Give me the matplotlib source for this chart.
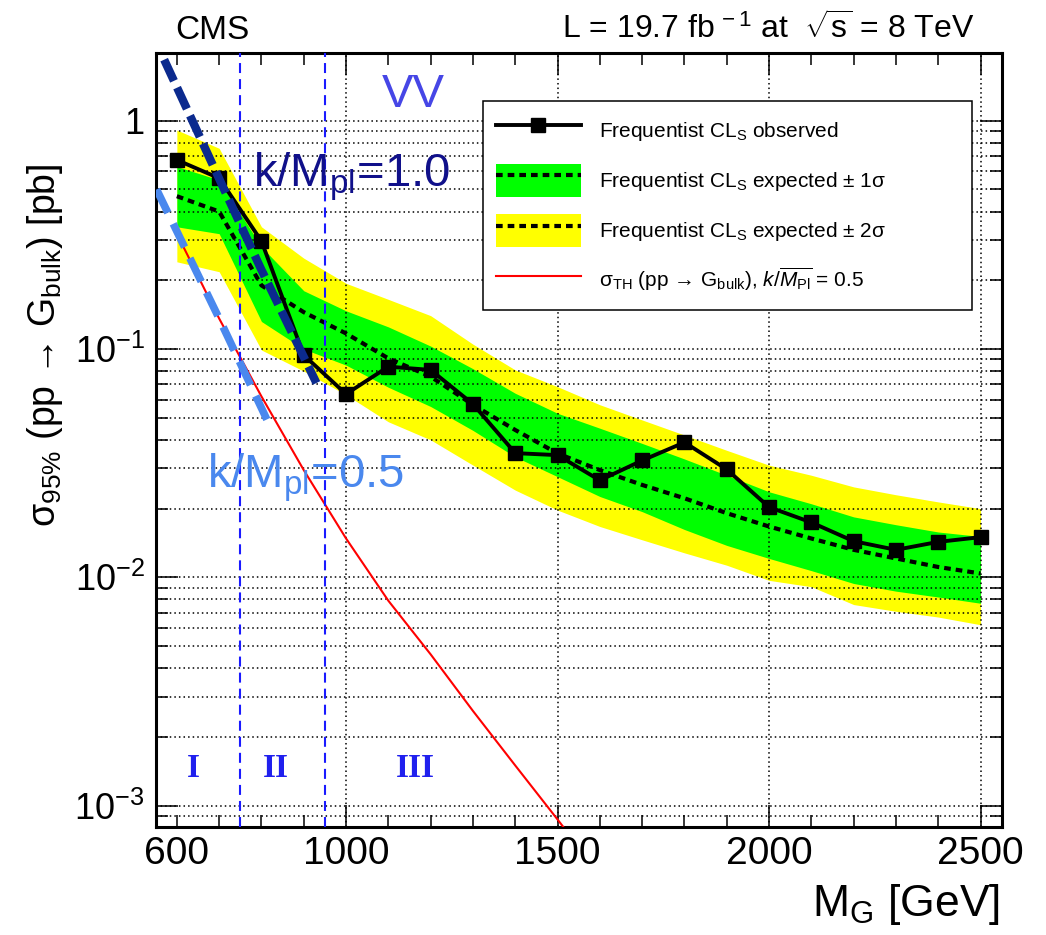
import math

import matplotlib
matplotlib.use('Agg')
import matplotlib.pyplot as plt
from matplotlib.lines import Line2D
from matplotlib.patches import Patch
from matplotlib.legend_handler import HandlerTuple
from matplotlib.ticker import FixedLocator, LogLocator, FuncFormatter, NullFormatter

plt.rcParams['font.family'] = 'Liberation Sans'
plt.rcParams['mathtext.fontset'] = 'custom'
plt.rcParams['mathtext.rm'] = 'Liberation Sans'
plt.rcParams['mathtext.it'] = 'Liberation Sans:italic'
plt.rcParams['mathtext.bf'] = 'Liberation Sans:bold'

# limits (pb)
mass = [600, 700, 800, 900, 1000, 1100, 1200, 1300, 1400, 1500,
        1600, 1700, 1800, 1900, 2000, 2100, 2200, 2300, 2400, 2500]
obs = [0.673, 0.56, 0.297, 0.094, 0.0635, 0.0837, 0.081, 0.0574, 0.035, 0.0343,
       0.0266, 0.0325, 0.039, 0.0297, 0.0203, 0.0174, 0.0144, 0.0132, 0.0143, 0.0150]
exp = [0.467, 0.40, 0.19, 0.145, 0.117, 0.091, 0.0757, 0.057, 0.0442, 0.0349,
       0.0295, 0.0254, 0.0222, 0.0191, 0.0167, 0.0148, 0.0132, 0.0121, 0.0111, 0.0104]
exp_1s_hi = [0.63, 0.55, 0.28, 0.18, 0.147, 0.125, 0.103, 0.082, 0.064, 0.0523,
             0.045, 0.0386, 0.033, 0.028, 0.0237, 0.021, 0.0184, 0.017, 0.0158, 0.0151]
exp_1s_lo = [0.343, 0.32, 0.132, 0.10, 0.085, 0.068, 0.056, 0.044, 0.0337, 0.0276,
             0.0226, 0.0194, 0.0162, 0.0138, 0.0121, 0.0107, 0.0094, 0.0087, 0.0082, 0.0077]
exp_2s_hi = [0.91, 0.757, 0.343, 0.25, 0.194, 0.165, 0.14, 0.105, 0.081, 0.0684,
             0.057, 0.0489, 0.042, 0.036, 0.031, 0.028, 0.0249, 0.023, 0.0214, 0.020]
exp_2s_lo = [0.241, 0.218, 0.099, 0.08, 0.063, 0.048, 0.040, 0.031, 0.0241, 0.0197,
             0.0167, 0.0146, 0.0128, 0.0113, 0.0097, 0.0091, 0.0076, 0.0071, 0.0067, 0.0062]

# theory k/Mpl = 0.5
th_mass = [600, 700, 800, 900, 1000, 1100, 1200, 1300, 1400, 1500, 1600]
th_xsec = [0.32, 0.136, 0.062, 0.0295, 0.0148, 0.0079, 0.0046, 0.0026, 0.0015, 0.00087, 0.0005]

# the two thick dashed guide lines
k10_mass = [570, 700, 800, 930]
k10_xsec = [1.85, 0.557, 0.222, 0.071]
k05_mass = [552, 700, 825]
k05_xsec = [0.50, 0.136, 0.044]

region_edges = [750, 950]
region_names = ['I', 'II', 'III']
region_pos = [638, 834, 1165]

fig = plt.figure(figsize=(10.46, 9.35), dpi=100)
ax = fig.add_axes([155.7 / 1046, 1 - 826.7 / 935, 846 / 1046, 774 / 935])

ax.fill_between(mass, exp_2s_lo, exp_2s_hi, color='#ffff00', lw=0, zorder=1)
ax.fill_between(mass, exp_1s_lo, exp_1s_hi, color='#00ff00', lw=0, zorder=1.1)

dot = (0, (1.6, 1.2))
ax.plot(mass, exp, color='k', lw=3, ls=dot, zorder=3)
ax.plot(th_mass, th_xsec, color='#ff0000', lw=1.5, zorder=3)
ax.plot(k05_mass, k05_xsec, color='#4a88ee', lw=5.5, ls=(0, (3.4, 1.6)), zorder=3.5)
ax.plot(mass, obs, color='k', lw=2.8, marker='s', ms=9.5, zorder=4)
ax.plot(k10_mass, k10_xsec, color='#0b2a8e', lw=6, ls=(0, (2.8, 0.9)), zorder=4.5)

for xe in region_edges:
    ax.axvline(xe, color='#1a1aff', lw=1.5, ls=(0, (4.8, 2.9)), zorder=3)
for name, xp in zip(region_names, region_pos):
    ax.text(xp, 0.00133, name, color='#2020ee', fontsize=24, fontweight='bold',
            family='Liberation Serif', ha='center', va='baseline')

ax.text(1158, 1.15, 'VV', color='#4646e6', fontsize=34, ha='center', va='baseline')
ax.text(780, 0.513, 'k/M$_\\mathrm{pl}$=1.0', color='#10108a', fontsize=34, ha='left', va='baseline')
ax.text(671, 0.0248, 'k/M$_\\mathrm{pl}$=0.5', color='#4a88ee', fontsize=34, ha='left', va='baseline')

ax.set_xlim(550, 2550)
ax.set_yscale('log')
ax.set_ylim(8.09e-4, 1.985)

ax.xaxis.set_major_locator(FixedLocator([600, 1000, 1500, 2000, 2500]))
ax.xaxis.set_minor_locator(FixedLocator(list(range(600, 2501, 100))))
ax.yaxis.set_major_locator(LogLocator(base=10))
ax.yaxis.set_minor_locator(LogLocator(base=10, subs=range(2, 10)))
ax.yaxis.set_minor_formatter(NullFormatter())


def ylab(v, pos):
    e = int(round(math.log10(v)))
    return '1' if e == 0 else '10$^{\\mathrm{%d}}$' % e


ax.yaxis.set_major_formatter(FuncFormatter(ylab))
ax.tick_params(which='both', direction='in', top=True, right=True, width=1.1)
ax.tick_params(which='major', length=16)
ax.tick_params(which='minor', length=8.5)
ax.tick_params(axis='x', labelsize=28, pad=7)
ax.tick_params(axis='y', labelsize=26, pad=8)
for s in ax.spines.values():
    s.set_linewidth(2.2)

ax.set_axisbelow(False)
ax.grid(True, which='major', axis='x', color='k', lw=1.1, ls=(0, (1, 2)))
ax.grid(True, which='both', axis='y', color='k', lw=1.1, ls=(0, (1, 2)))
t600 = ax.xaxis.get_major_ticks()[0]
t600.gridline.set_visible(False)
t600.tick1line.set_markersize(8.5)
t600.tick2line.set_markersize(8.5)

h_obs = Line2D([], [], color='k', lw=2.8, marker='s', ms=9.5)
h_line = Line2D([], [], color='k', lw=3, ls=dot)
h_1s = (Patch(facecolor='#00ff00', edgecolor='none'), h_line)
h_2s = (Patch(facecolor='#ffff00', edgecolor='none'), h_line)
h_th = Line2D([], [], color='#ff0000', lw=1.5)
labels = ['Frequentist CL$_\\mathrm{S}$ observed',
          'Frequentist CL$_\\mathrm{S}$ expected ± 1σ',
          'Frequentist CL$_\\mathrm{S}$ expected ± 2σ',
          'σ$_\\mathrm{TH}$ (pp → G$_\\mathrm{bulk}$), $k/\\overline{M_\\mathrm{Pl}}$ = 0.5']
leg = ax.legend([h_obs, h_1s, h_2s, h_th], labels,
                handler_map={tuple: HandlerTuple(ndivide=1, pad=0)},
                loc='upper left', bbox_to_anchor=(0.3869, 0.5, 0.578, 0.4376),
                mode='expand', borderaxespad=0, fontsize=15, handlelength=4.1,
                handleheight=2.07, labelspacing=0.82, borderpad=0.6,
                handletextpad=0.86, fancybox=False, framealpha=1, edgecolor='k')
leg.get_frame().set_linewidth(1.1)
leg.set_zorder(10)

fig.text(175 / 1046, 1 - 39 / 935, 'CMS', fontsize=24, ha='left', va='baseline')
fig.text(975 / 1046, 1 - 39 / 935, 'L = 19.7 fb$^{\\,-1}$ at  $\\sqrt{\\mathrm{s}}$ = 8 TeV',
         fontsize=23, ha='right', va='baseline')
fig.text(1000 / 1046, 1 - 916 / 935, 'M$_\\mathrm{G}$ [GeV]', fontsize=32, ha='right', va='baseline')
fig.text(45 / 1046, 1 - 345 / 935, 'σ$_{95\\%}$ (pp → G$_\\mathrm{bulk}$) [pb]',
         fontsize=27, rotation=90, ha='center', va='center')

fig.savefig('out.png', dpi=100)
